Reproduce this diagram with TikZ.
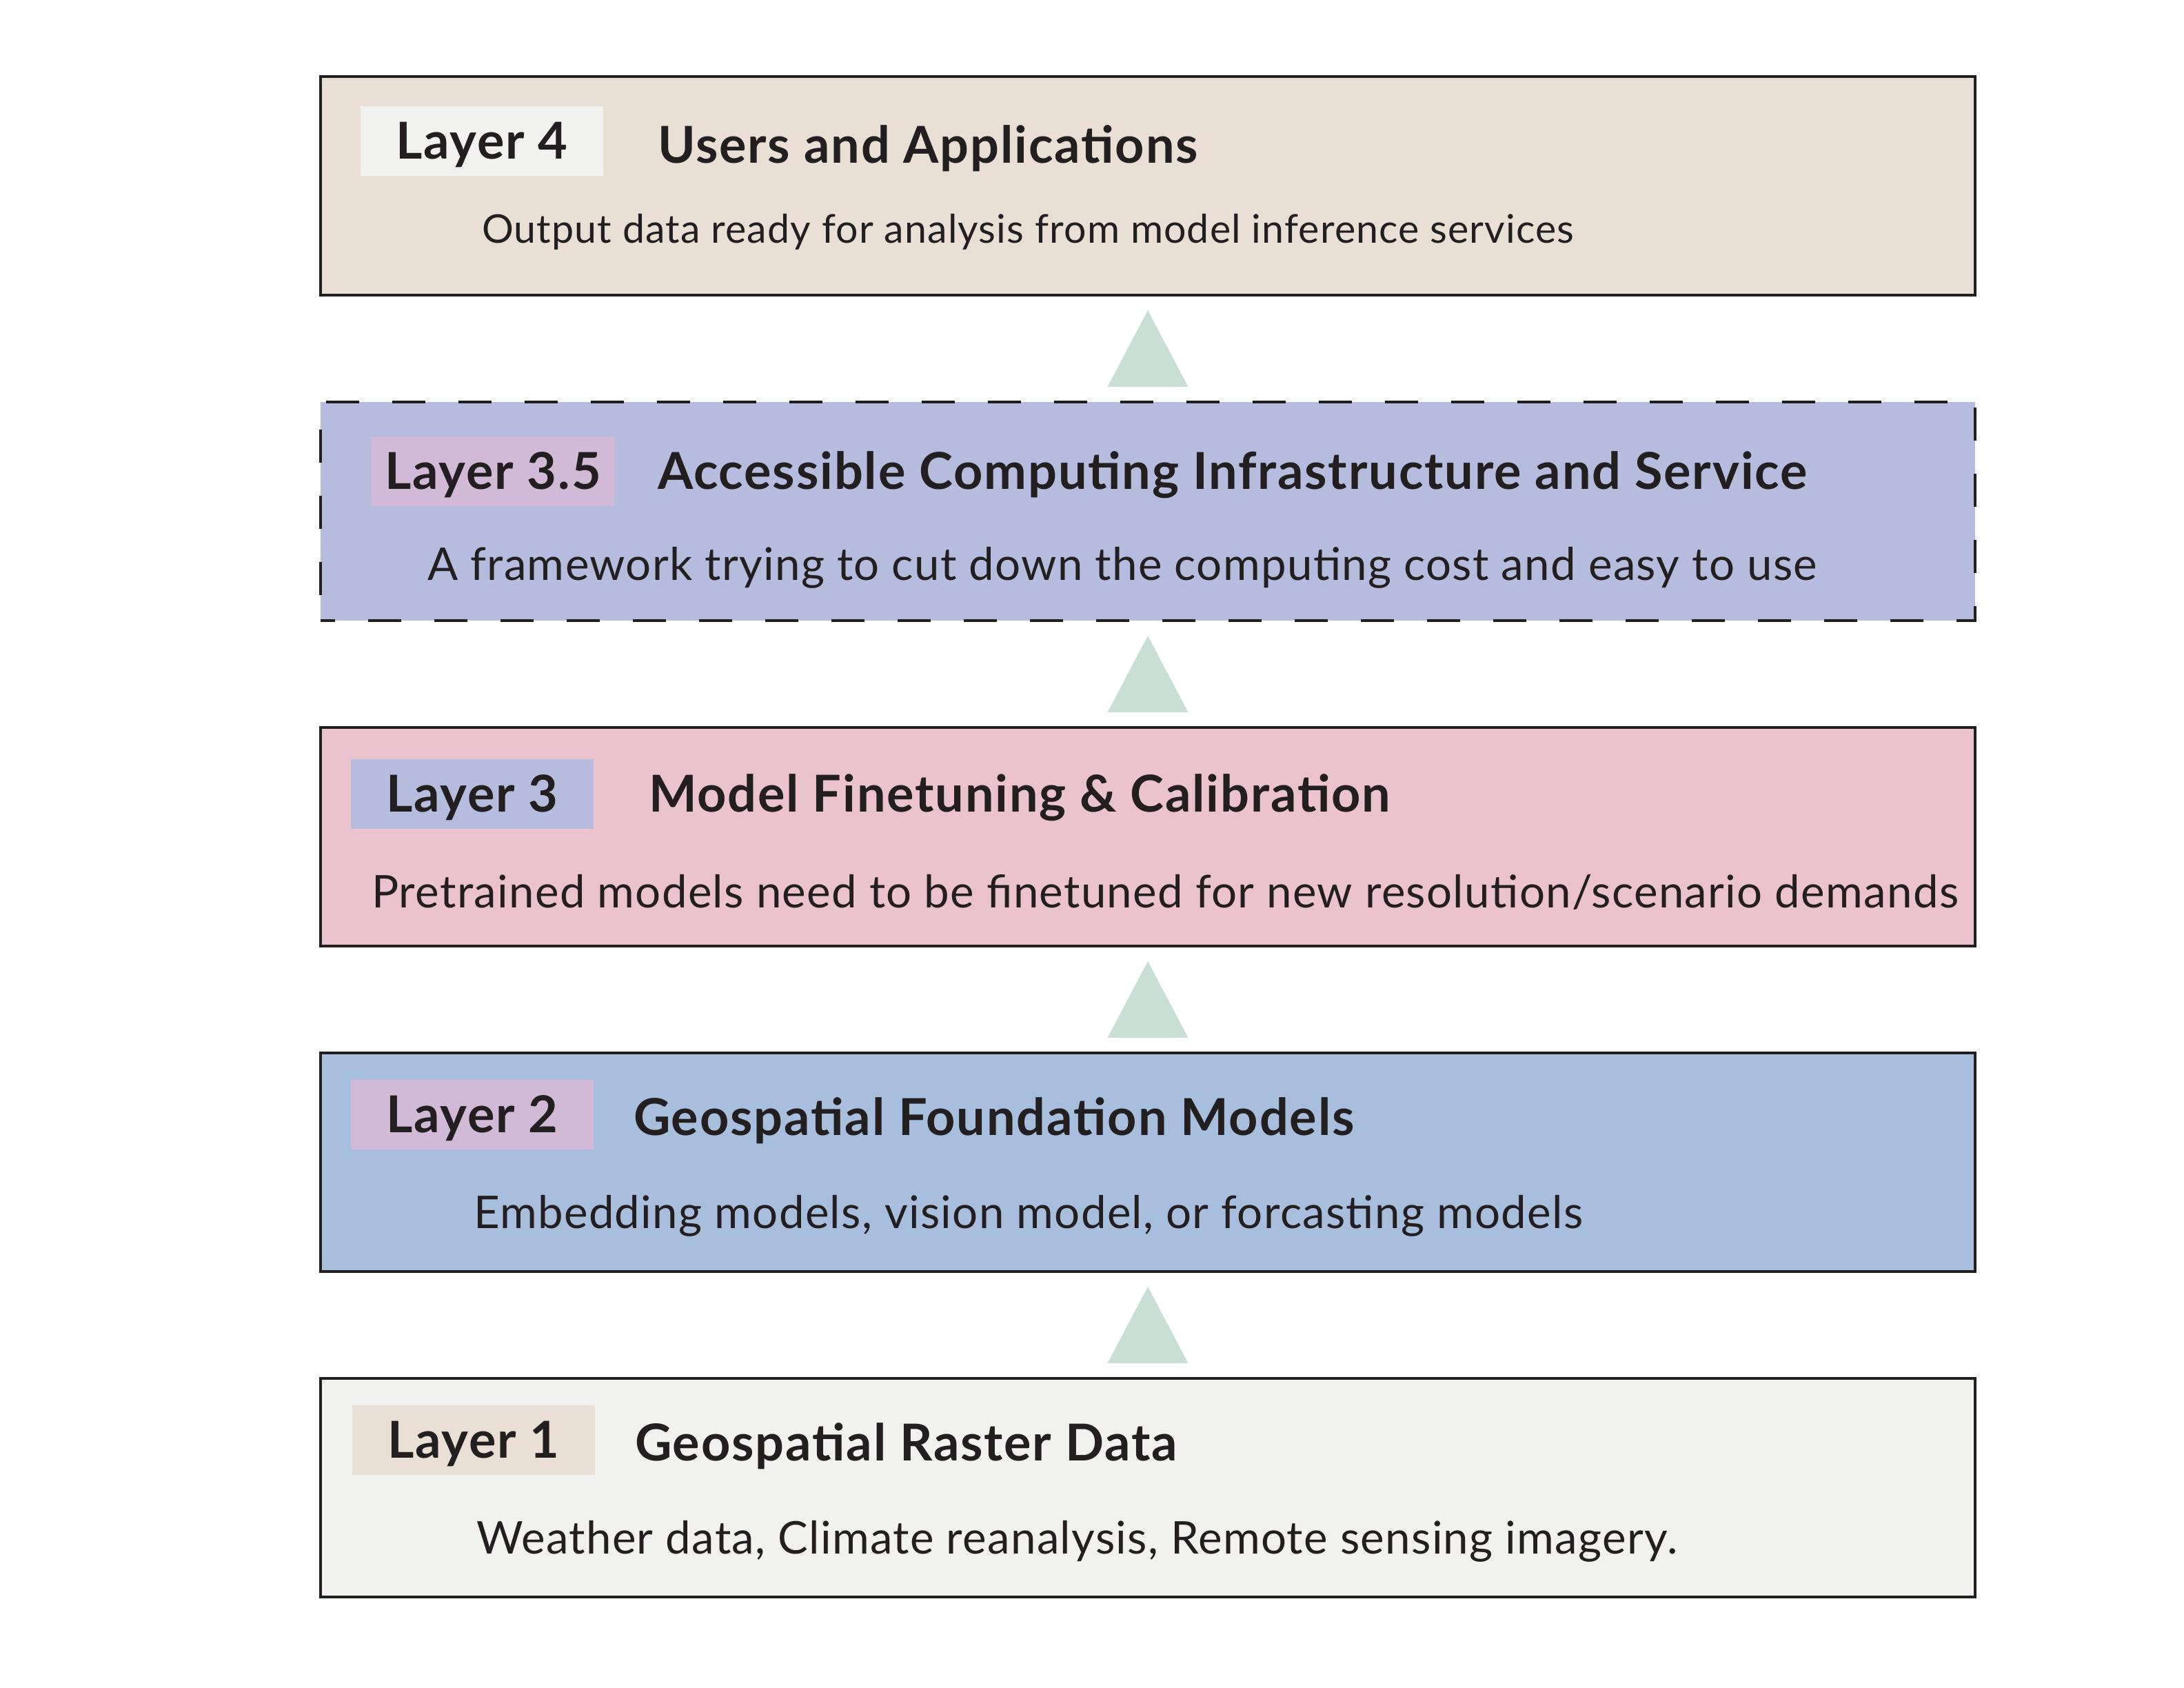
\documentclass[tikz,border=0pt]{standalone}
\usepackage{fontspec}
\setmainfont{Lato}
\newfontfamily\headfont[LetterSpace=2.5]{Lato}
\newfontfamily\descfont[LetterSpace=2]{Lato}
\usetikzlibrary{
calc,
positioning
}
\tikzset{>=latex}

\definecolor{inkdark}{HTML}{231F20}
\definecolor{sandfill}{HTML}{EADFD4}
\definecolor{periwinkle}{HTML}{B5BCDD}
\definecolor{rosefill}{HTML}{EAC3CF}
\definecolor{skyfill}{HTML}{A8BEDD}
\definecolor{mistfill}{HTML}{F1F2F0}
\definecolor{mauvefill}{HTML}{D3B9D8}
\definecolor{mintfill}{HTML}{C7DFD4}

\begin{document}
\begin{tikzpicture}[node distance=1.55cm,
		layerbox/.style={draw=inkdark,line width=1.2pt,minimum width=24cm,minimum height=3.17cm,inner sep=0,outer sep=0},
		tagbox/.style={minimum width=3.52cm,minimum height=1.01cm,inner sep=0,outer sep=0,text=inkdark,font=\headfont\fontsize{21}{25}\selectfont\bfseries,text height=15pt,text depth=0pt},
		headtext/.style={inner sep=0,outer sep=0,text=inkdark,font=\headfont\fontsize{21}{25}\selectfont\bfseries,text height=15pt,text depth=0pt},
		desctext/.style={anchor=west,inner sep=0,outer sep=0,text=inkdark,font=\descfont\fontsize{18.6}{22}\selectfont,text height=13.3pt,text depth=0pt},
		uptri/.style={fill=mintfill}]
		\useasboundingbox (0,0) rectangle (31.68,24.48);

		% the five layers
		\node[layerbox,fill=sandfill] (layer4) at (16.65,21.785) {};
		\node[layerbox,fill=periwinkle,dash pattern=on 0.48cm off 0.48cm,dash phase=0.27cm,below=of layer4] (layer35) {};
		\node[layerbox,fill=rosefill,below=of layer35] (layer3) {};
		\node[layerbox,fill=skyfill,below=of layer3] (layer2) {};
		\node[layerbox,fill=mistfill,below=of layer2] (layer1) {};

		% layer 4
		\node[tagbox,fill=mistfill,below right=0.43cm and 0.58cm of layer4.north west] (tag4) {Layer 4};
		\node[headtext,right=0.79cm of tag4,yshift=-0.06cm] (head4) {Users and Applications};
		\node[desctext,font=\descfont\fontsize{16.3}{20}\selectfont,text height=11.7pt] (desc4) at ($(layer4.north west)+(2.34,-2.21)$) {Output data ready for analysis from model inference services};

		% layer 3.5
		\node[tagbox,fill=mauvefill,below right=0.50cm and 0.74cm of layer35.north west] (tag35) {Layer 3.5};
		\node[headtext,right=0.63cm of tag35] (head35) {Accessible Computing Infrastructure and Service};
		\node[desctext] (desc35) at ($(layer35.north west)+(1.55,-2.35)$) {A framework trying to cut down the computing cost and easy to use};

		% layer 3
		\node[tagbox,fill=periwinkle,below right=0.46cm and 0.44cm of layer3.north west] (tag3) {Layer 3};
		\node[headtext,right=0.80cm of tag3] (head3) {Model Finetuning \& Calibration};
		\node[desctext] (desc3) at ($(layer3.north west)+(0.74,-2.38)$) {Pretrained models need to be finetuned for new resolution/scenario demands};

		% layer 2
		\node[tagbox,fill=mauvefill,below right=0.39cm and 0.44cm of layer2.north west] (tag2) {Layer 2};
		\node[headtext,right=0.58cm of tag2,yshift=-0.04cm] (head2) {Geospatial Foundation Models};
		\node[desctext] (desc2) at ($(layer2.north west)+(2.22,-2.31)$) {Embedding models, vision model, or forcasting models};

		% layer 1
		\node[tagbox,fill=sandfill,below right=0.39cm and 0.46cm of layer1.north west] (tag1) {Layer 1};
		\node[headtext,right=0.58cm of tag1,yshift=-0.04cm] (head1) {Geospatial Raster Data};
		\node[desctext] (desc1) at ($(layer1.north west)+(2.26,-2.31)$) {Weather data, Climate reanalysis, Remote sensing imagery.};

		% arrows between the layers
		\foreach \src/\dst in {layer35/layer4,layer3/layer35,layer2/layer3,layer1/layer2}{
			\coordinate (mid) at ($(\src.north)!0.5!(\dst.south)$);
			\fill[uptri] ($(mid)+(-0.585,-0.555)$) -- ($(mid)+(0.585,-0.555)$) -- ($(mid)+(0,0.555)$) -- cycle;
		}
	\end{tikzpicture}
\end{document}
